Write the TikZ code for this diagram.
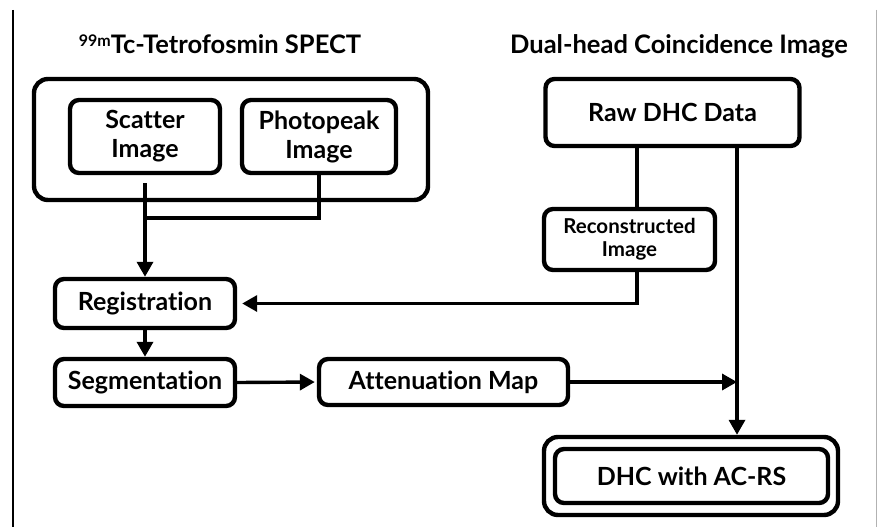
\documentclass[tikz,border=0pt]{standalone}
\usepackage{fontspec}
\setmainfont{Lato}[UprightFont=* Bold,Ligatures=NoCommon]
\usetikzlibrary{arrows.meta,calc}
\begin{document}
\begin{tikzpicture}[x=1pt,y=-1pt,
  box/.style={draw,line width=4.4pt,rounded corners=9pt,align=center,inner sep=0pt,font=\fontsize{25}{29}\selectfont},
  conn/.style={line width=3.4pt},
  arr/.style={conn,-{Triangle[length=15pt,width=16pt]}},
  ttl/.style={font=\fontsize{25.5}{28}\selectfont,anchor=base}]
\useasboundingbox (0,0) rectangle (877,527);
\fill[white] (0,0) rectangle (877,527);
% frame
\draw[line width=2pt] (13,10) -- (13,527);
\draw[line width=0.8pt,gray!60] (876,10) -- (876,527);
% titles
\node[ttl] (t1) at (220,53) {\raisebox{0.5ex}{\fontsize{16}{18}\selectfont 99m}Tc-Tetrofosmin SPECT};
\node[ttl] (t2) at (679,53) {Dual-head Coincidence Image};
% nodes
\node[box,rounded corners=14pt,minimum width=394pt,minimum height=121pt] (spect) at (231,139.5) {};
\node[box,minimum width=150pt,minimum height=73pt] (scatter) at (145,136.5) {Scatter\\Image};
\node[box,minimum width=154pt,minimum height=73pt] (photo) at (319,136.5) {Photopeak\\Image};
\node[box,minimum width=254pt,minimum height=67pt] (raw) at (672.5,112.5) {Raw DHC Data};
\node[box,minimum width=171pt,minimum height=61pt,font=\fontsize{20.5}{23}\selectfont] (recon) at (629.5,239.5) {Reconstructed\\Image};
\node[box,minimum width=180pt,minimum height=49pt] (reg) at (145,303.5) {Registration};
\node[box,minimum width=180pt,minimum height=47pt] (seg) at (145,382.5) {Segmentation};
\node[box,minimum width=249pt,minimum height=46pt] (att) at (443.5,382) {Attenuation Map};
\node[draw,line width=4.4pt,rounded corners=14pt,minimum width=294pt,minimum height=78pt,inner sep=0pt] (dhcout) at (691,476) {};
\node[box,minimum width=273pt,minimum height=54pt] (dhc) at (691.5,476) {DHC with AC-RS};
% connectors
\coordinate (scstart) at ($(scatter.south)+(0,8)$);
\draw[arr] (scstart) -- (reg.north);
\coordinate (pj) at (photo.south |- 0,218);
\draw[conn] (photo.south) -- (pj) -- (pj -| scatter.south);
\coordinate (rawl) at ($(raw.south)+(-35.5,0)$);
\draw[conn] (rawl) -- (rawl |- recon.north);
\coordinate (recb) at (rawl |- recon.south);
\coordinate (recc) at (rawl |- reg.east);
\draw[arr,shorten >=5pt] (recb) -- (recc) -- (reg.east);
\draw[arr] (reg.south) -- (seg.north);
\draw[arr,shorten >=2pt] (seg.east) -- (att.west);
\coordinate (rawr) at ($(raw.south)+(64.5,0)$);
\draw[arr] (rawr) -- (rawr |- dhcout.north);
\draw[arr] (att.east) -- (att.east -| rawr);
\end{tikzpicture}
\end{document}
